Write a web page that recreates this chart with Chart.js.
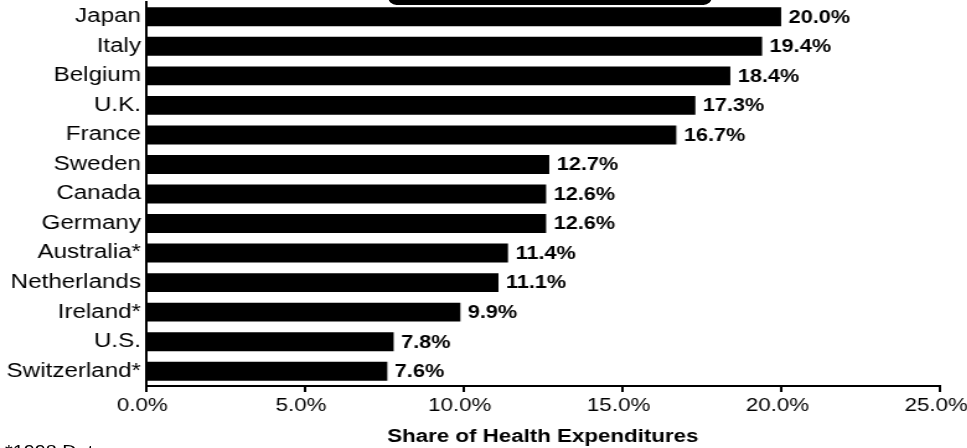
<!DOCTYPE html>
<html>
<head>
<meta charset="utf-8">
<script src="https://cdn.jsdelivr.net/npm/chart.js@4"></script>
<style>
  body { margin: 0; background: #fff; overflow: hidden; width: 967px; height: 448px; position: relative; }
  #wrap { position: absolute; left: 0; top: 0; width: 780px; height: 448px; transform: scaleX(1.24); transform-origin: 0 0; }
  #note { position: absolute; left: 4px; top: 444px; font: 16px "Liberation Sans", Arial, sans-serif; line-height: 16px; color: #000; white-space: nowrap; }
  #topbox { position: absolute; left: 388px; top: -12px; width: 324px; height: 17px; border-radius: 9px; background: #000; }
</style>
</head>
<body>
<div id="topbox"></div>
<div id="wrap">
  <canvas id="chart" width="780" height="448"></canvas>
  <div id="note">*1998 Data</div>
</div>
<script>
const countries = ["Japan", "Italy", "Belgium", "U.K.", "France", "Sweden", "Canada", "Germany", "Australia*", "Netherlands", "Ireland*", "U.S.", "Switzerland*"]
const shares = [20.0, 19.4, 18.4, 17.3, 16.7, 12.7, 12.6, 12.6, 11.4, 11.1, 9.9, 7.8, 7.6]
const axisMin = 0
const axisMax = 25
const axisStep = 5
const axisTitle = "Share of Health Expenditures"

const fontFamily = '"Liberation Sans", Arial, sans-serif'
Chart.defaults.font.family = fontFamily
Chart.defaults.color = '#000'

// value labels at the end of each bar
const barLabels = {
  id: 'barLabels',
  afterDatasetsDraw(chart) {
    const ctx = chart.ctx
    const meta = chart.getDatasetMeta(0)
    ctx.save()
    ctx.font = 'bold 17.5px ' + fontFamily
    ctx.fillStyle = '#000'
    ctx.textBaseline = 'middle'
    ctx.textAlign = 'left'
    meta.data.forEach((bar, i) => {
      ctx.fillText(shares[i].toFixed(1) + '%', bar.x + 6, bar.y + 1)
    })
    ctx.restore()
  }
}

new Chart(document.getElementById('chart'), {
  type: 'bar',
  data: {
    labels: countries,
    datasets: [{
      data: shares,
      backgroundColor: '#000',
      borderWidth: 0,
      barPercentage: 0.64,
      categoryPercentage: 1
    }]
  },
  options: {
    indexAxis: 'y',
    responsive: false,
    animation: false,
    devicePixelRatio: 1,
    layout: { padding: { left: 0, right: 22, top: 2, bottom: 0 } },
    plugins: {
      legend: { display: false },
      tooltip: { enabled: false }
    },
    scales: {
      x: {
        min: axisMin,
        max: axisMax,
        border: { display: true, color: '#000', width: 2 },
        grid: { drawOnChartArea: false, drawTicks: true, tickLength: 6, color: '#000', lineWidth: 2 },
        ticks: {
          stepSize: axisStep,
          padding: 3,
          labelOffset: -3,
          maxRotation: 0,
          font: { size: 18 },
          callback: v => v.toFixed(1) + '%'
        },
        title: {
          display: true,
          text: axisTitle,
          font: { size: 18, weight: 'bold' },
          padding: { top: 0, bottom: 0 }
        },
        afterFit(scale) {
          scale.height = 62
          scale.paddingLeft = 0
          scale.paddingRight = 0
        }
      },
      y: {
        border: { display: true, color: '#000', width: 2 },
        grid: { display: false, drawTicks: false },
        ticks: { padding: 4, font: { size: 19.5 } },
        afterFit(scale) {
          scale.width = 117.7
          scale.paddingTop = 0
          scale.paddingBottom = 0
        }
      }
    }
  },
  plugins: [barLabels]
})
</script>
</body>
</html>
